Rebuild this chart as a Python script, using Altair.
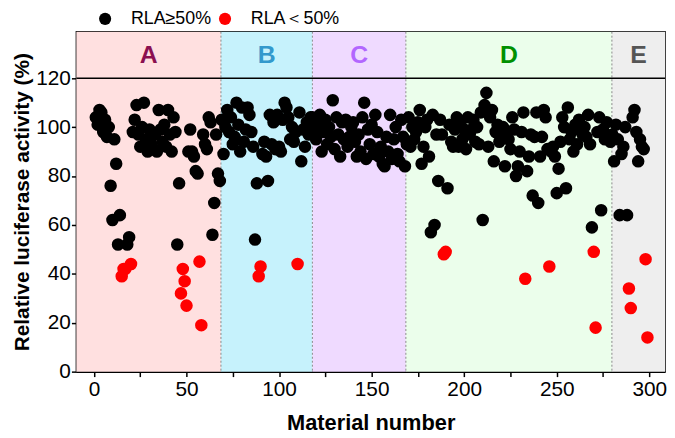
import altair as alt
import pandas as pd

# Relative luciferase activity (%) per material, material numbers 1..299 in order
rla_A = [104, 101, 107, 106, 98, 103, 96, 100, 76, 62,
         95, 85, 52, 64, 39, 42, 42, 52, 55, 44,
         98, 103, 109, 97, 92, 100, 110, 95, 90, 99,
         93, 91, 97, 90, 107, 99, 94, 101, 92, 107,
         97, 90, 104, 98, 52, 77, 32, 42, 37, 27,
         90, 99, 90, 88, 82, 81, 45, 19, 97, 93,
         91, 104, 102, 56, 69, 97, 81, 78]
rla_B = [103, 89, 100, 107, 98, 104, 93, 96, 110, 101,
         90, 108, 94, 99, 108, 105, 98, 92, 54, 77,
         39, 43, 89, 94, 88, 78, 105, 93, 102, 91,
         105, 92, 90, 103, 110, 108, 104, 95, 100, 94,
         98, 44, 106, 86, 99, 92, 102, 97, 104]
rla_C = [104, 99, 95, 102, 105, 90, 98, 103, 93, 100,
         96, 111, 91, 104, 97, 88, 102, 95, 103, 92,
         96, 100, 102, 94, 88, 97, 90, 104, 110, 87,
         99, 93, 101, 89, 105, 98, 88, 92, 85, 84,
         96, 90, 105, 87, 95, 100, 89, 86, 103, 96]
rla_D = [84, 93, 104, 92, 100, 95, 98, 102, 107, 85,
         92, 100, 103, 88, 57, 105, 60, 97, 78, 103,
         97, 48, 49, 75, 101, 94, 92, 99, 104, 92,
         101, 95, 99, 91, 104, 97, 99, 103, 94, 100,
         93, 106, 62, 109, 114, 92, 104, 107, 86, 98,
         101, 94, 96, 100, 84, 97, 95, 91, 104, 99,
         80, 84, 90, 98, 106, 38, 82, 88, 97, 72,
         96, 106, 69, 88, 96, 107, 104, 91, 43, 90,
         92, 88, 73, 83, 94, 104, 100, 75, 108, 95,
         98, 90, 101, 93, 103, 99, 97, 100, 96, 105,
         93, 59, 49, 18, 98, 104, 66, 99, 95, 102,
         96, 94]
rla_E = [97, 86, 101, 95, 64, 89, 92, 100, 64, 34,
         26, 104, 107, 98, 86, 95, 92, 91, 46, 14]

legend_labels = ["RLA≥50%", "RLA＜50%"]
legend_colors = ["#000000", "#FF0000"]

region_names = ["A", "B", "C", "D", "E"]
region_start = [-9.5, 68.6, 118.0, 168.5, 279.8]
region_end = [68.6, 118.0, 168.5, 279.8, 308.5]
region_fill = ["#FFE0E0", "#C6F2FC", "#EFDAFF", "#EBFEEB", "#EEEEEE"]
region_text = ["#8B1050", "#3399CC", "#B266FF", "#009000", "#555555"]
boundaries = [68.6, 118.0, 168.5, 279.8]
label_level = 129.6
cut_level = 120

x_ticks = [0, 25, 50, 75, 100, 125, 150, 175, 200, 225, 250, 275, 300]
y_ticks = [0, 20, 40, 60, 80, 100, 120]

values = rla_A + rla_B + rla_C + rla_D + rla_E
df = pd.DataFrame({
    "material": list(range(1, len(values) + 1)),
    "rla": values,
})
df["group"] = [legend_labels[0] if v >= 50 else legend_labels[1] for v in values]

regions = pd.DataFrame({
    "name": region_names, "start": region_start, "end": region_end,
    "fill": region_fill, "tcolor": region_text,
})
regions["mid"] = (regions["start"] + regions["end"]) / 2
regions["ylab"] = label_level

FONT = "Liberation Sans"
W, H = 594, 343

xscale = alt.Scale(domain=[-9.5, 308.5], nice=False, zero=False)
yscale = alt.Scale(domain=[0, 139], nice=False, zero=True)
xaxis = alt.Axis(values=x_ticks, labelExpr="datum.value % 50 === 0 ? datum.label : ''",
                 labelFontSize=21, labelFont=FONT, labelColor="black", labelPadding=2,
                 tickSize=5, title="Material number", titleFontSize=22, titleFont=FONT,
                 titleFontWeight="bold", titleColor="black", titlePadding=13, grid=False)
yaxis = alt.Axis(values=y_ticks, labelFontSize=21, labelFont=FONT, labelColor="black",
                 labelPadding=1, tickSize=5, title="Relative luciferase activity (%)",
                 titleFontSize=21, titleFont=FONT, titleFontWeight="bold",
                 titleColor="black", titlePadding=3, grid=False)

X = lambda f: alt.X(f, type="quantitative", scale=xscale, axis=xaxis)
Y = lambda f: alt.Y(f, type="quantitative", scale=yscale, axis=yaxis)

bg = alt.Chart(regions).mark_rect().encode(
    x=X("start"), x2="end",
    y=alt.value(0), y2=alt.value(H),
    fill=alt.Fill("fill:N", scale=None),
)

bounds = alt.Chart(pd.DataFrame({"b": boundaries})).mark_rule(
    color="#8A8A8A", strokeDash=[2, 2], strokeWidth=1
).encode(x=X("b"))

hline = alt.Chart(pd.DataFrame({"c": [cut_level]})).mark_rule(
    color="black", strokeWidth=1.5
).encode(y=Y("c"))

labels = alt.Chart(regions).mark_text(
    font=FONT, fontSize=25, fontWeight="bold", baseline="middle", align="center"
).encode(
    x=X("mid"), y=Y("ylab"), text="name:N",
    color=alt.Color("tcolor:N", scale=None),
)

points = alt.Chart(df).mark_circle(size=160, opacity=1).encode(
    x=X("material"), y=Y("rla"),
    color=alt.Color("group:N",
                    scale=alt.Scale(domain=legend_labels, range=legend_colors),
                    legend=alt.Legend(title=None, orient="none", legendX=20, legendY=-22,
                                      direction="horizontal", symbolType="circle",
                                      symbolSize=150, symbolStrokeWidth=0,
                                      labelFontSize=18, labelFont=FONT, labelColor="black",
                                      labelOffset=17, columnPadding=5, padding=0)),
)

chart = alt.layer(bg, bounds, hline, labels, points).properties(
    width=W, height=H,
    padding={"left": 69, "top": 22, "right": 2, "bottom": 65},
    autosize=alt.AutoSizeParams(type="none"),
).configure_view(
    stroke="black", strokeWidth=1.5
).configure_axis(
    domainColor="black", domainWidth=1.5, tickColor="black", tickWidth=1.5
)

chart.save("out.html", embed_options={"renderer": "svg", "actions": False})
